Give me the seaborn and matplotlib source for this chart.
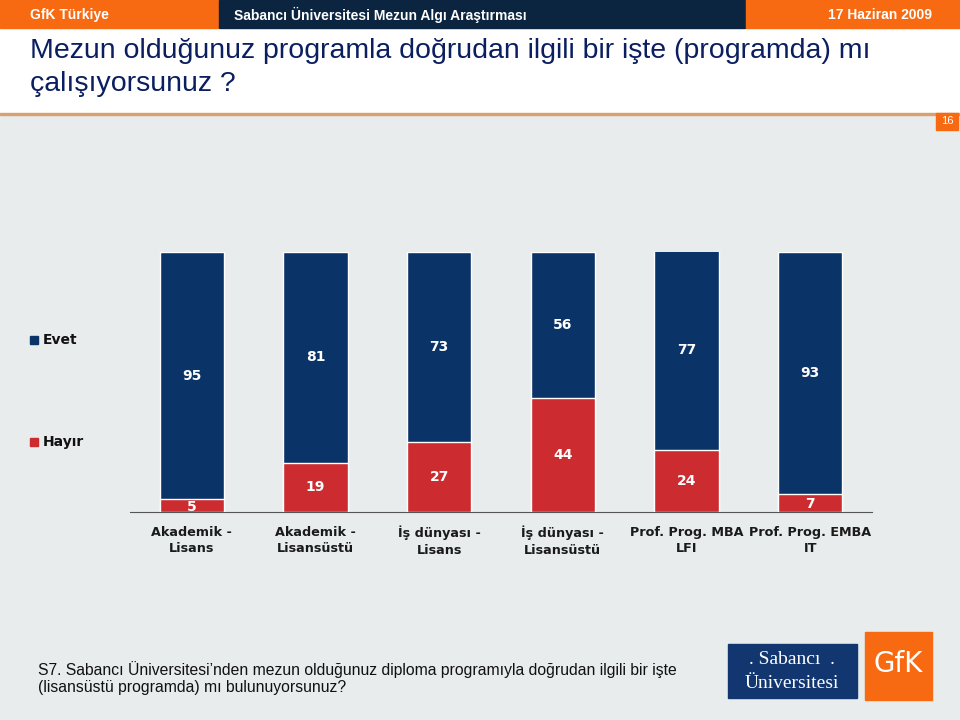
import matplotlib
matplotlib.use("Agg")
import matplotlib.pyplot as plt
import seaborn as sns
import pandas as pd
from matplotlib.patches import Rectangle

categories = ["Akademik -\nLisans", "Akademik -\nLisansüstü", "İş dünyası -\nLisans",
              "İş dünyası -\nLisansüstü", "Prof. Prog. MBA\nLFI", "Prof. Prog. EMBA\nIT"]
evet = [95, 81, 73, 56, 77, 93]
hayir = [5, 19, 27, 44, 24, 7]

NAVY = "#0A3468"
RED = "#CC2B2F"
BG = "#E8ECEC"
ORANGE = "#F76A12"
HEADNAVY = "#0B2540"

sns.set_theme(style="white")
plt.rcParams['font.family'] = ['Liberation Sans', 'DejaVu Sans']

fig = plt.figure(figsize=(9.6, 7.2), dpi=100)
fig.patch.set_facecolor("white")

# background panels
fig.add_artist(Rectangle((0, 0), 1, 1 - 115/720, transform=fig.transFigure, color=BG, zorder=0))
fig.add_artist(Rectangle((0, 1 - 115/720), 1, 2/720, transform=fig.transFigure, color="#D9A070", zorder=1))
# header
fig.add_artist(Rectangle((0, 1 - 28/720), 218/960, 28/720, transform=fig.transFigure, color=ORANGE, zorder=1))
fig.add_artist(Rectangle((219/960, 1 - 28/720), 526/960, 28/720, transform=fig.transFigure, color=HEADNAVY, zorder=1))
fig.add_artist(Rectangle((746/960, 1 - 28/720), 214/960, 28/720, transform=fig.transFigure, color=ORANGE, zorder=1))
fig.text(30/960, 1 - 15/720, "GfK Türkiye", color="white", fontsize=10, fontweight="bold",
         va="center", ha="left")
fig.text(234/960, 1 - 15/720, "Sabancı Üniversitesi Mezun Algı Araştırması", color="white", fontsize=10,
         fontweight="bold", va="center", ha="left")
fig.text(932/960, 1 - 15/720, "17 Haziran 2009", color="white", fontsize=10, fontweight="bold",
         va="center", ha="right")

# title
fig.text(30/960, 1 - 67.5/720, "Mezun olduğunuz programla doğrudan ilgili bir işte (programda) mı\nçalışıyorsunuz ?",
         fontsize=20.5, color="#0A1E60", va="center", ha="left", linespacing=1.38)

# page number
fig.add_artist(Rectangle((936/960, 1 - 130/720), 22/960, 17/720, transform=fig.transFigure, color=ORANGE, zorder=2))
fig.text(947/960, 1 - 121.5/720, "16", color="white", fontsize=8, va="center", ha="center", zorder=3)

# chart axes
ax = fig.add_axes([130/960, 1 - 512/720, 742/960, 260/720])
ax.set_facecolor("none")
df = pd.DataFrame({"cat": categories, "evet": evet, "hayir": hayir})
df["total"] = df["evet"] + df["hayir"]
sns.barplot(data=df, x="cat", y="total", color=NAVY, saturation=1, width=0.52, ax=ax, zorder=2)
sns.barplot(data=df, x="cat", y="hayir", color=RED, saturation=1, width=0.52, ax=ax, zorder=3)
ax.set_ylim(0, 100)
ax.set_xlim(-0.5, len(categories) - 0.5)
for s in ["top", "left", "right"]:
    ax.spines[s].set_visible(False)
ax.spines["bottom"].set_color("#555555")
ax.spines["bottom"].set_linewidth(0.8)
ax.set_yticks([])
ax.set_xlabel("")
ax.set_ylabel("")
ax.set_xticks(range(len(categories)))
ax.set_xticklabels(categories, fontsize=9.2, fontweight="bold", color="#1a1a1a",
                   family=["DejaVu Sans"], linespacing=1.35)
ax.tick_params(axis="x", which="major", length=0, pad=10)
ax.set_xticks([i - 0.5 for i in range(len(categories) + 1)], minor=True)
ax.tick_params(axis="x", which="minor", direction="in", length=5, color="#555555", width=0.8)

for i, (e, h) in enumerate(zip(evet, hayir)):
    ax.text(i, h + e / 2, str(e), ha="center", va="center", color="white", fontsize=10,
            fontweight="bold", family=["DejaVu Sans"], zorder=5)
    ax.text(i, h / 2 if h > 8 else h / 2 - 0.5, str(h), ha="center", va="center", color="white",
            fontsize=10, fontweight="bold", family=["DejaVu Sans"], zorder=5)

# legend (manual)
fig.add_artist(Rectangle((30/960, 1 - 344/720), 8/960, 8/720, transform=fig.transFigure, color=NAVY, zorder=3))
fig.text(43/960, 1 - 340/720, "Evet", fontsize=10, fontweight="bold", va="center", ha="left",
         color="#111111", family=["DejaVu Sans"])
fig.add_artist(Rectangle((30/960, 1 - 446/720), 8/960, 8/720, transform=fig.transFigure, color=RED, zorder=3))
fig.text(43/960, 1 - 442/720, "Hayır", fontsize=10, fontweight="bold", va="center", ha="left",
         color="#111111", family=["DejaVu Sans"])

# footnote
fig.text(38/960, 1 - 678/720,
         "S7. Sabancı Üniversitesi\u2019nden mezun olduğunuz diploma programıyla doğrudan ilgili bir işte\n(lisansüstü programda) mı bulunuyorsunuz?",
         fontsize=11.3, color="#111111", va="center", ha="left", linespacing=1.1)

# logos
fig.add_artist(Rectangle((728/960, 1 - 698/720), 129/960, 54/720, transform=fig.transFigure, color="#123670", zorder=3))
fig.text(792/960, 1 - 660/720, ". Sabancı  .", color="white", fontsize=14, va="center", ha="center",
         family=["Liberation Serif", "DejaVu Serif"], zorder=4)
fig.text(792/960, 1 - 683/720, "Üniversitesi", color="white", fontsize=14, va="center", ha="center",
         family=["Liberation Serif", "DejaVu Serif"], zorder=4)
fig.add_artist(Rectangle((865/960, 1 - 700/720), 67/960, 68/720, transform=fig.transFigure, color=ORANGE, zorder=3))
fig.text(898/960, 1 - 664/720, "GfK", color="white", fontsize=20, va="center", ha="center",
         family=["DejaVu Sans"], zorder=4)

fig.savefig("out.png", dpi=100)
